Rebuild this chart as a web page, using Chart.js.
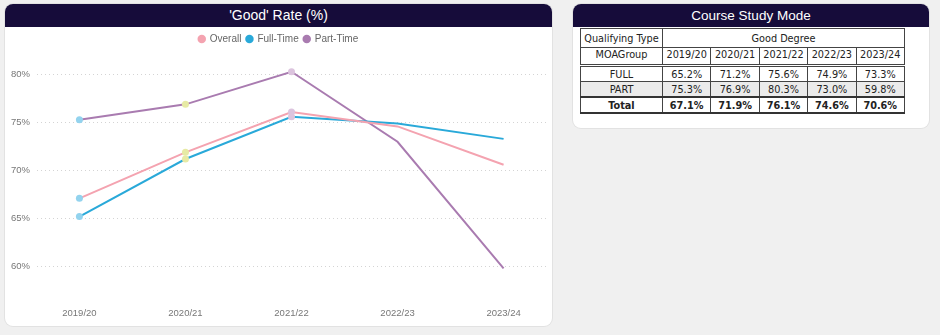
<!DOCTYPE html>
<html>
<head>
<meta charset="utf-8">
<script src="https://cdn.jsdelivr.net/npm/chart.js@4/dist/chart.umd.min.js"></script>
<style>
  body { margin: 0; background: #f0f0f0; width: 940px; height: 335px; overflow: hidden; }
  .card { position: absolute; background: #fff; border-radius: 8px; overflow: hidden; box-shadow: 0 0 0 1px #e2e2e2; }
  .head { height: 23px; line-height: 23px; background: #160c3a; color: #fff; text-align: center; font-family: 'Liberation Sans', Arial, sans-serif; }
  #rateCard { left: 5px; top: 4px; width: 547px; height: 322px; }
  #rateCard .head { font-size: 14px; }
  #rateBody { position: absolute; left: 0; top: 23px; width: 547px; height: 299px; }
  #modeCard { left: 573px; top: 4px; width: 356px; height: 124px; }
  #modeCard .head { font-size: 13.5px; }
  #modeTable { position: absolute; left: 7px; top: 24px; border-collapse: collapse; table-layout: fixed;
    font: 10.8px 'DejaVu Sans Condensed', 'DejaVu Sans', sans-serif; color: #222; }
  #modeTable td { border: 1px solid #444; text-align: center; padding: 0; white-space: nowrap; }
  #modeTable tr.top td { height: 18px; }
  #modeTable tr.group td { height: 16px; vertical-align: top; border-bottom: 3px double #444; }
  #modeTable tr.full td { height: 14px; }
  #modeTable tr.part td { height: 14px; background: #ebebeb; }
  #modeTable tr.total td { height: 14px; font-weight: bold; border-top: 2px solid #333; border-bottom: 2px solid #333; }
</style>
</head>
<body>
<div class="card" id="rateCard">
  <div class="head">'Good' Rate (%)</div>
  <div id="rateBody"><canvas id="rateChart"></canvas></div>
</div>
<div class="card" id="modeCard">
  <div class="head">Course Study Mode</div>
  <table id="modeTable"></table>
</div>
<script>
const categories = ['2019/20', '2020/21', '2021/22', '2022/23', '2023/24'];
const overallRate = [67.1, 71.9, 76.1, 74.6, 70.6];
const fullTimeRate = [65.2, 71.2, 75.6, 74.9, 73.3];
const partTimeRate = [75.3, 76.9, 80.3, 73.0, 59.8];
const yTicks = [60, 65, 70, 75, 80];

// marker fill per year, later years have no marker
const markerColours = ['#93d3ee', '#e7eaa5', '#dcc4de', 'rgba(0,0,0,0)', 'rgba(0,0,0,0)'];
const markerSizes = [3.5, 3.5, 3.5, 0, 0];

const pct = v => v.toFixed(1) + '%';

// study mode table
function buildTable() {
  const table = document.getElementById('modeTable');
  let html = '<colgroup><col style="width:82px">' + categories.map(() => '<col style="width:48.4px">').join('') + '</colgroup>';
  html += '<tr class="top"><td>Qualifying Type</td><td colspan="' + categories.length + '">Good Degree</td></tr>';
  html += '<tr class="group"><td>MOAGroup</td>' + categories.map(c => '<td>' + c + '</td>').join('') + '</tr>';
  html += '<tr class="full"><td>FULL</td>' + fullTimeRate.map(v => '<td>' + pct(v) + '</td>').join('') + '</tr>';
  html += '<tr class="part"><td>PART</td>' + partTimeRate.map(v => '<td>' + pct(v) + '</td>').join('') + '</tr>';
  html += '<tr class="total"><td>Total</td>' + overallRate.map(v => '<td>' + pct(v) + '</td>').join('') + '</tr>';
  table.innerHTML = html;
}

function series(label, values, colour) {
  return {
    label: label,
    data: values.map((v, i) => ({ x: i, y: v })),
    borderColor: colour,
    backgroundColor: colour,
    borderWidth: 2,
    tension: 0,
    pointRadius: markerSizes,
    pointBackgroundColor: markerColours,
    pointBorderWidth: 0,
    pointHoverRadius: 0
  };
}

function createLineChart() {
  const ctx = document.getElementById('rateChart').getContext('2d');
  Chart.defaults.font.family = "'Liberation Sans', Arial, sans-serif";

  new Chart(ctx, {
    type: 'line',
    data: {
      datasets: [
        series('Overall', overallRate, '#f4a3b0'),
        series('Full-Time', fullTimeRate, '#29a9d9'),
        series('Part-Time', partTimeRate, '#a97bb0')
      ]
    },
    options: {
      responsive: true,
      maintainAspectRatio: false,
      animation: false,
      layout: { padding: { top: 2, right: 6, left: 6, bottom: 0 } },
      scales: {
        x: {
          type: 'linear',
          min: -0.4,
          max: 4.4,
          afterBuildTicks: scale => { scale.ticks = categories.map((c, i) => ({ value: i })); },
          afterFit: scale => { scale.height = 26; },
          grid: { display: false, drawTicks: false },
          border: { display: false },
          ticks: {
            padding: 8,
            color: '#777',
            font: { size: 9.5 },
            maxRotation: 0,
            autoSkip: false,
            callback: v => categories[v]
          }
        },
        y: {
          min: 56.5,
          max: 82.15,
          afterBuildTicks: scale => { scale.ticks = yTicks.map(v => ({ value: v })); },
          afterFit: scale => { scale.width = 26; },
          grid: { color: '#d4d4d4', lineWidth: 1, drawTicks: false },
          border: { display: false, dash: [1, 3] },
          ticks: {
            padding: 7,
            color: '#777',
            font: { size: 9.5 },
            callback: v => v + '%'
          }
        }
      },
      plugins: {
        tooltip: { enabled: false },
        legend: {
          position: 'top',
          labels: {
            usePointStyle: true,
            pointStyle: 'circle',
            boxWidth: 6,
            boxHeight: 6,
            padding: 5,
            color: '#666',
            font: { size: 10 },
            // legend dots take the line colour, not the first marker colour
            generateLabels: chart => chart.data.datasets.map((ds, i) => ({
              text: ds.label,
              fillStyle: ds.borderColor,
              strokeStyle: ds.borderColor,
              lineWidth: 0,
              pointStyle: 'circle',
              hidden: !chart.isDatasetVisible(i),
              datasetIndex: i,
              fontColor: '#666'
            }))
          }
        }
      }
    }
  });
}

buildTable();
createLineChart();
</script>
</body>
</html>
